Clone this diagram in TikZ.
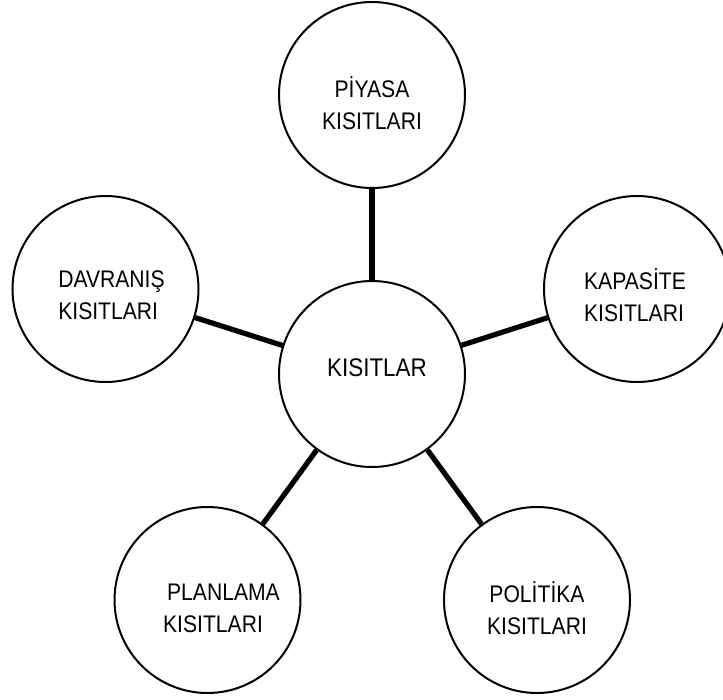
\documentclass[tikz,border=0pt]{standalone}
\usepackage{fontspec}
\setmainfont{Liberation Sans}[FakeStretch=0.88]
\tikzset{
  bubble/.style={
    circle,
    draw=black,
    line width=2pt,
    minimum size=186pt,
    inner sep=0pt
  },
  bubble-text/.style={
    font=\fontsize{24}{32}\selectfont,
    inner sep=0pt
  },
  spoke/.style={line width=5.2pt}
}

\begin{document}
\begin{tikzpicture}[x=1pt,y=-1pt]
  \useasboundingbox (0,0) rectangle (723,699);
  % centre circle
  \node[bubble] (kisitlar) at (372,374) {};
  \node[bubble-text, font=\fontsize{25.5}{32}\selectfont] (kisitlar-t) at ([xshift=5pt,yshift=6pt]kisitlar.center) {KISITLAR};
  % outer circles
  \node[bubble] (piyasa) at (372,95) {};
  \node[bubble] (davranis) at (105.5,289) {};
  \node[bubble] (kapasite) at (637,289) {};
  \node[bubble] (planlama) at (207.5,600) {};
  \node[bubble] (politika) at (537,600) {};
  % texts
  \node[bubble-text, align=center] (piyasa-t) at ([yshift=-8pt]piyasa.center) {PİYASA\\KISITLARI};
  \node[bubble-text, align=left] (davranis-t) at ([xshift=6pt,yshift=-6pt]davranis.center) {DAVRANIŞ\\KISITLARI};
  \node[bubble-text, align=left] (kapasite-t) at ([xshift=-2pt,yshift=-6pt]kapasite.center) {KAPASİTE\\KISITLARI};
  \node[bubble-text, align=left] (planlama-t) at ([xshift=14pt,yshift=-8pt]planlama.center) {\hspace*{4pt}PLANLAMA\\KISITLARI};
  \node[bubble-text, align=center] (politika-t) at ([yshift=-8pt]politika.center) {POLİTİKA\\KISITLARI};
  % spokes
  \draw[spoke] (kisitlar) -- (piyasa);
  \draw[spoke] (kisitlar) -- (davranis);
  \draw[spoke] (kisitlar) -- (kapasite);
  \draw[spoke] (kisitlar) -- (planlama);
  \draw[spoke] (kisitlar) -- (politika);
\end{tikzpicture}
\end{document}
